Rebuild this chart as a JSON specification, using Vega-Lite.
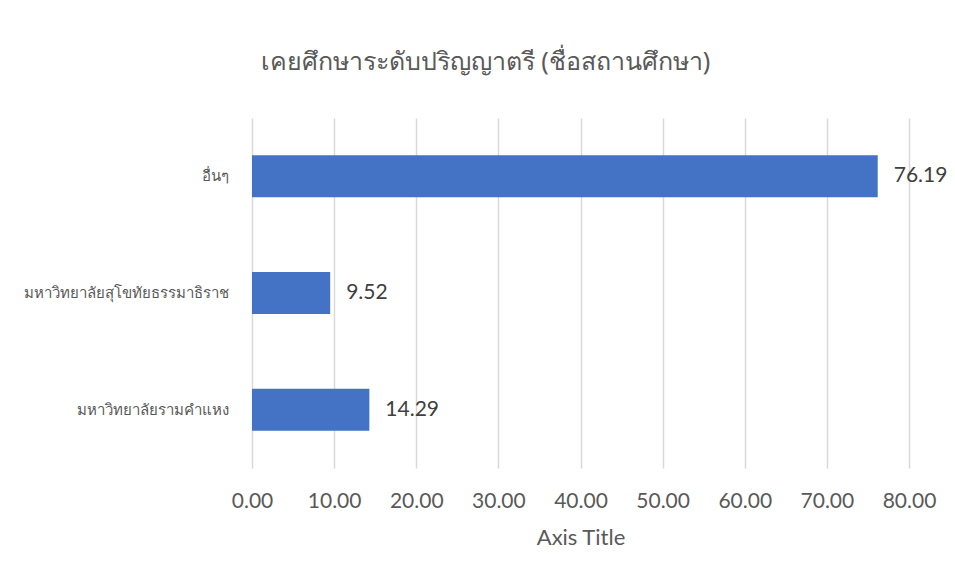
{
  "$schema": "https://vega.github.io/schema/vega-lite/v6.json",
  "width": 657,
  "height": 350,
  "autosize": {"type": "none"},
  "padding": {"left": 252, "top": 118, "right": 46, "bottom": 111},
  "background": "white",
  "title": {
    "text": "เคยศึกษาระดับปริญญาตรี (ชื่อสถานศึกษา)",
    "fontSize": 25,
    "fontWeight": "normal",
    "color": "#595959",
    "font": "Noto Sans",
    "anchor": "middle",
    "dx": -95,
    "offset": 43
  },
  "data": {
    "values": [
      {"category": "อื่นๆ", "value": 76.19},
      {"category": "มหาวิทยาลัยสุโขทัยธรรมาธิราช", "value": 9.52},
      {"category": "มหาวิทยาลัยรามคำแหง", "value": 14.29}
    ]
  },
  "encoding": {
    "y": {
      "field": "category",
      "type": "nominal",
      "sort": ["อื่นๆ", "มหาวิทยาลัยสุโขทัยธรรมาธิราช", "มหาวิทยาลัยรามคำแหง"],
      "scale": {"paddingInner": 0.64, "paddingOuter": 0.32},
      "axis": {
        "title": null,
        "domain": false,
        "ticks": false,
        "labelPadding": 24,
        "labelFontSize": 15,
        "labelLimit": 400,
        "labelColor": "#595959",
        "labelFont": "Noto Sans",
        "grid": false
      }
    },
    "x": {
      "field": "value",
      "type": "quantitative",
      "scale": {"domain": [0, 80], "nice": false},
      "axis": {
        "title": "Axis Title",
        "titleFontSize": 22,
        "titleFontWeight": "normal",
        "titleColor": "#595959",
        "titleFont": "Lato",
        "titlePadding": 16,
        "values": [0, 10, 20, 30, 40, 50, 60, 70, 80],
        "format": ".2f",
        "labelFontSize": 21,
        "labelFont": "Lato",
        "labelColor": "#595959",
        "labelPadding": 22,
        "labelFlush": false,
        "labelOverlap": false,
        "domain": false,
        "ticks": false,
        "grid": true,
        "gridColor": "#d9d9d9",
        "gridWidth": 1.5
      }
    }
  },
  "layer": [
    {"mark": {"type": "bar", "color": "#4472C4"}},
    {
      "mark": {"type": "text", "align": "left", "baseline": "middle", "dx": 16, "fontSize": 21, "font": "Lato", "color": "#404040"},
      "encoding": {"text": {"field": "value", "type": "quantitative", "format": ".2f"}}
    }
  ],
  "config": {"view": {"stroke": null}}
}
